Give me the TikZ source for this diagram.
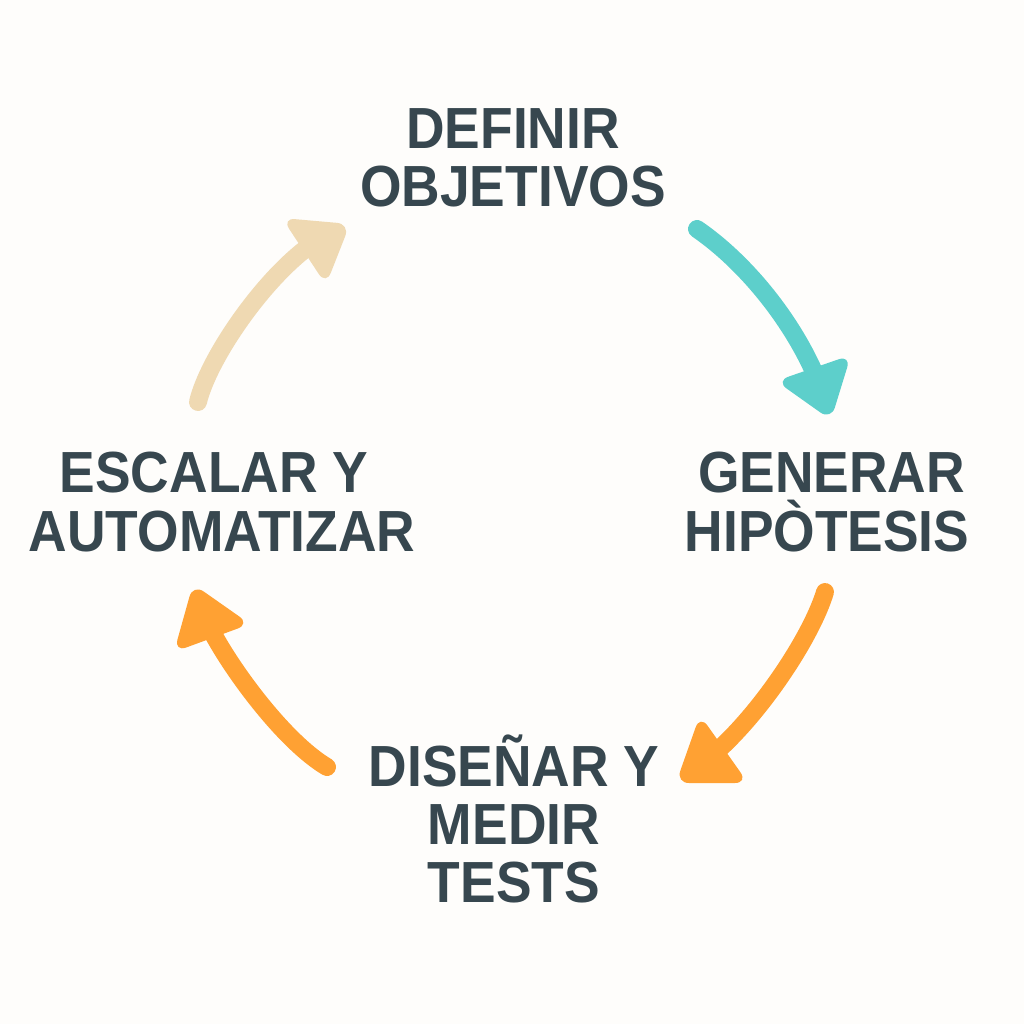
\documentclass[tikz,border=0pt]{standalone}
\usepackage{fontspec}
\setmainfont[FakeStretch=0.92]{Liberation Sans}
\definecolor{paper}{HTML}{FEFDFB}
\definecolor{ink}{HTML}{37474F}
\definecolor{tealarrow}{HTML}{5DCFCB}
\definecolor{sandarrow}{HTML}{EFD9B2}
\definecolor{orangearrow}{HTML}{FFA133}
\tikzset{every path/.style={line width=5.1pt}}
\tikzset{stage/.style={inner sep=0pt,align=center,text=ink,font=\fontsize{16.5}{16.6}\selectfont\bfseries}}
\tikzset{shaft/.style={line cap=round,line join=round}}
\tikzset{tip/.style={rounded corners=0.13cm,line width=0pt}}

\begin{document}
\begin{tikzpicture}[x=0.01cm,y=-0.01cm]
\fill[paper] (0,0) rectangle (1024,1024);
\useasboundingbox (0,0) rectangle (1024,1024);

\node[stage] (definir) at (513,158) {DEFINIR\\OBJETIVOS};
\node[stage] (generar) at (827,502) {\mbox{}\hspace{0.09cm}GENERAR\\HIPÒTESIS};
\node[stage] (disenar) at (514,819) {DISEÑAR Y\\MEDIR\\TESTS};
\node[stage] (escalar) at (222,502) {ESCALAR Y\hspace{0.16cm}\mbox{}\\AUTOMATIZAR};

\coordinate (a1) at (697,229);
\coordinate (a3) at (814,372);
\coordinate (b1) at (825,592);
\coordinate (b3) at (716,752);
\coordinate (c1) at (327,767);
\coordinate (c3) at (211,630);
\coordinate (d1) at (198,402);
\coordinate (d3) at (308,247);

\draw[shaft,tealarrow] (a1) .. controls (745,262) and (790,318) .. (a3);
\fill[tip,tealarrow] (851,355) -- (831,420) -- (776,381) -- cycle;

\draw[shaft,orangearrow] (b1) .. controls (812,635) and (764,709) .. (b3);
\fill[tip,orangearrow] (700,715) -- (748,783) -- (676,783) -- cycle;

\draw[shaft,orangearrow] (c1) .. controls (285,742) and (233,672) .. (c3);
\fill[tip,orangearrow] (193,584) -- (250,624) -- (174,652) -- cycle;

\draw[shaft,sandarrow] (d1) .. controls (208,360) and (260,283) .. (d3);
\fill[tip,sandarrow] (282,218) -- (350,224) -- (326,285) -- cycle;
\end{tikzpicture}
\end{document}
